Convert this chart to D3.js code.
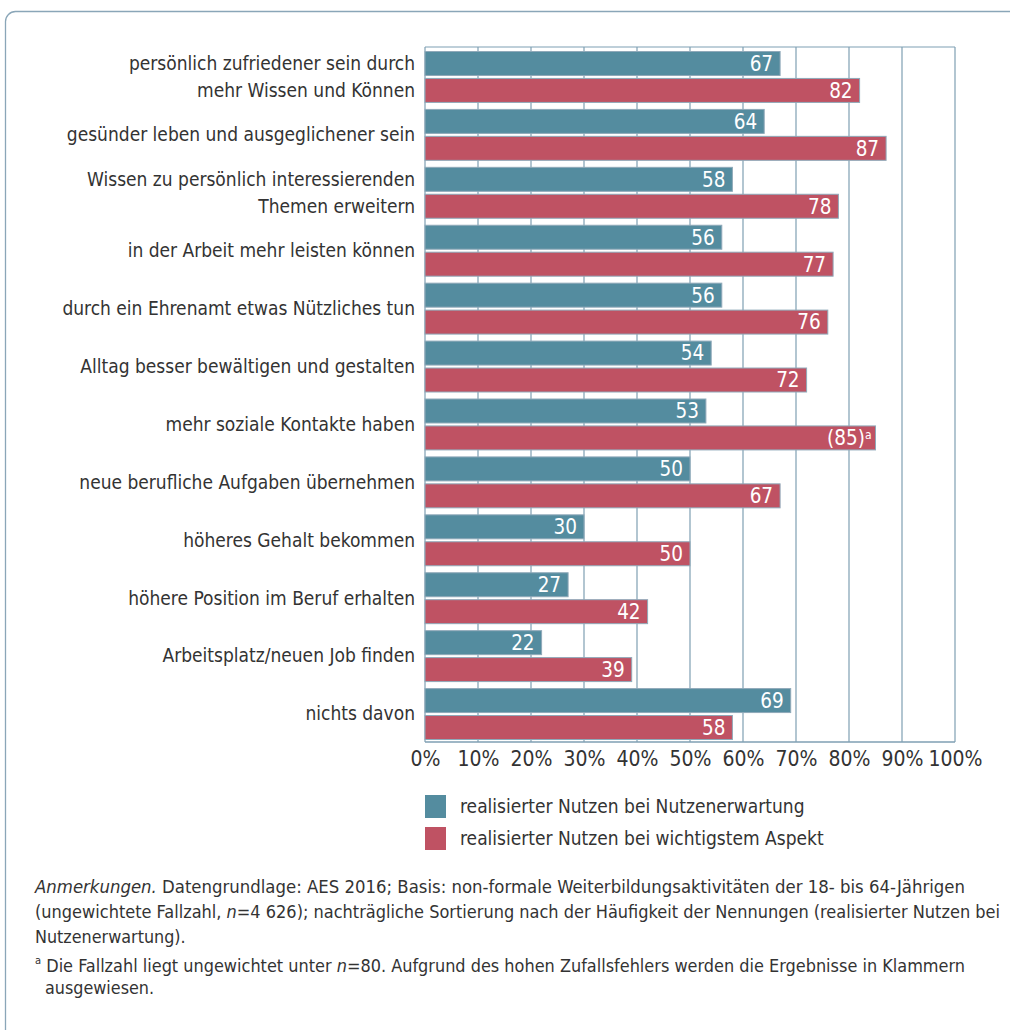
<!doctype html>
<html>
<head>
<meta charset="utf-8">
<title>Realisierter Nutzen</title>
<script src="https://d3js.org/d3.v7.min.js"></script>
<style>
body { margin: 0; background: #fff; }
svg { display: block; font-family: "Liberation Sans Narrow", "DejaVu Sans Condensed", sans-serif; }
.cat { font-size: 19px; fill: #333; }
.tick text { font-size: 21px; fill: #333; }
.val { font-size: 20.5px; fill: #fff; }
.leg { font-size: 19px; fill: #333; }
.note { font-size: 17.8px; fill: #333; }
</style>
</head>
<body>
<script>
var categories = [
  ["persönlich zufriedener sein durch", "mehr Wissen und Können"],
  ["gesünder leben und ausgeglichener sein"],
  ["Wissen zu persönlich interessierenden", "Themen erweitern"],
  ["in der Arbeit mehr leisten können"],
  ["durch ein Ehrenamt etwas Nützliches tun"],
  ["Alltag besser bewältigen und gestalten"],
  ["mehr soziale Kontakte haben"],
  ["neue berufliche Aufgaben übernehmen"],
  ["höheres Gehalt bekommen"],
  ["höhere Position im Beruf erhalten"],
  ["Arbeitsplatz/neuen Job finden"],
  ["nichts davon"]
];
var erwartung = [67, 64, 58, 56, 56, 54, 53, 50, 30, 27, 22, 69];
var wichtigster = [82, 87, 78, 77, 76, 72, 85, 67, 50, 42, 39, 58];
var bracketed = [false, false, false, false, false, false, true, false, false, false, false, false];
var seriesNames = ["realisierter Nutzen bei Nutzenerwartung", "realisierter Nutzen bei wichtigstem Aspekt"];
var colors = ["#548c9f", "#bf5263"];
var tickValues = [0, 10, 20, 30, 40, 50, 60, 70, 80, 90, 100];

var W = 1010, H = 1030;
var plotLeft = 425, plotRight = 955, plotTop = 47, plotBottom = 742;

var svg = d3.select("body").append("svg").attr("width", W).attr("height", H);

// frame
svg.append("rect").attr("x", 5.5).attr("y", 11.5).attr("width", 1040).attr("height", 1060)
  .attr("rx", 10).attr("fill", "none").attr("stroke", "#8aa6b8").attr("stroke-width", 1.3);

var x = d3.scaleLinear().domain([0, 100]).range([plotLeft, plotRight]);
var y = d3.scaleBand().domain(d3.range(categories.length)).range([plotTop, plotBottom]).paddingInner(0).paddingOuter(0);
var sub = d3.scaleBand().domain([0, 1]).range([4.5, y.bandwidth() - 2.5]).paddingInner(0.11);

var g = svg.append("g");

// grid
g.selectAll("line.grid").data(tickValues).enter().append("line")
  .attr("x1", function(d){ return x(d); }).attr("x2", function(d){ return x(d); })
  .attr("y1", plotTop).attr("y2", plotBottom)
  .attr("stroke", "#7f9fb3").attr("stroke-width", 1.2);
g.append("line").attr("x1", plotLeft).attr("x2", plotRight).attr("y1", plotTop).attr("y2", plotTop)
  .attr("stroke", "#7f9fb3").attr("stroke-width", 1.2);
g.append("line").attr("x1", plotLeft).attr("x2", plotRight).attr("y1", plotBottom).attr("y2", plotBottom)
  .attr("stroke", "#7f9fb3").attr("stroke-width", 1.5);

var series = [erwartung, wichtigster];
series.forEach(function(vals, s) {
  var grp = g.append("g");
  grp.selectAll("rect").data(vals).enter().append("rect")
    .attr("x", x(0))
    .attr("y", function(d, i){ return y(i) + sub(s); })
    .attr("width", function(d){ return x(d) - x(0); })
    .attr("height", sub.bandwidth())
    .attr("fill", colors[s])
    .attr("stroke", "#8fa9b9").attr("stroke-width", 1);
  var t = grp.selectAll("text").data(vals).enter().append("text")
    .attr("class", "val")
    .attr("x", function(d, i){ return x(d) - (s == 1 && bracketed[i] ? 4 : 7); })
    .attr("y", function(d, i){ return y(i) + sub(s) + sub.bandwidth() / 2; })
    .attr("dy", "0.36em")
    .attr("text-anchor", "end");
  t.each(function(d, i) {
    var el = d3.select(this);
    if (s == 1 && bracketed[i]) {
      el.append("tspan").text("(" + d + ")");
      el.append("tspan").attr("dy", "-0.5em").style("font-size", "12px").text("a");
    } else {
      el.text(d);
    }
  });
});

// category labels
categories.forEach(function(lines, i) {
  lines.forEach(function(line, j) {
    var cy = lines.length == 2 ? y(i) + sub(j) + sub.bandwidth() / 2 : y(i) + y.bandwidth() / 2 + 0.5;
    g.append("text").attr("class", "cat")
      .attr("x", 415).attr("y", cy).attr("dy", "0.36em")
      .attr("text-anchor", "end").text(line);
  });
});

// x axis
var xAxis = d3.axisBottom(x).tickValues(tickValues).tickSize(0).tickPadding(9)
  .tickFormat(function(d){ return d + "%"; });
var ax = g.append("g").attr("transform", "translate(0," + plotBottom + ")").call(xAxis);
ax.select(".domain").remove();
ax.attr("font-family", null).attr("font-size", null);

// legend
var leg = svg.append("g").attr("transform", "translate(425,795)");
seriesNames.forEach(function(name, i) {
  leg.append("rect").attr("x", 0).attr("y", i * 32).attr("width", 21).attr("height", 23).attr("fill", colors[i]);
  leg.append("text").attr("class", "leg").attr("x", 35).attr("y", i * 32 + 11.5).attr("dy", "0.36em").text(name);
});

// notes
var notes = svg.append("g").attr("class", "note");
var n1 = notes.append("text").attr("x", 35).attr("y", 893)
  .attr("textLength", 930).attr("lengthAdjust", "spacingAndGlyphs");
n1.append("tspan").style("font-style", "italic").text("Anmerkungen.");
n1.append("tspan").text(" Datengrundlage: AES 2016; Basis: non-formale Weiterbildungsaktivitäten der 18- bis 64-Jährigen");
var n2 = notes.append("text").attr("x", 35).attr("y", 918)
  .attr("textLength", 965).attr("lengthAdjust", "spacingAndGlyphs");
n2.append("tspan").text("(ungewichtete Fallzahl, ");
n2.append("tspan").style("font-style", "italic").text("n");
n2.append("tspan").text("=4 626); nachträgliche Sortierung nach der Häufigkeit der Nennungen (realisierter Nutzen bei");
notes.append("text").attr("x", 35).attr("y", 943).text("Nutzenerwartung).");
var n4 = notes.append("text").attr("x", 35).attr("y", 969)
  .attr("textLength", 930).attr("lengthAdjust", "spacingAndGlyphs");
n4.append("tspan").attr("dy", "-0.45em").style("font-size", "11px").text("a");
n4.append("tspan").attr("dy", "0.45em").text(" Die Fallzahl liegt ungewichtet unter ");
n4.append("tspan").style("font-style", "italic").text("n");
n4.append("tspan").text("=80. Aufgrund des hohen Zufallsfehlers werden die Ergebnisse in Klammern");
notes.append("text").attr("x", 45).attr("y", 994).text("ausgewiesen.");
</script>
</body>
</html>
